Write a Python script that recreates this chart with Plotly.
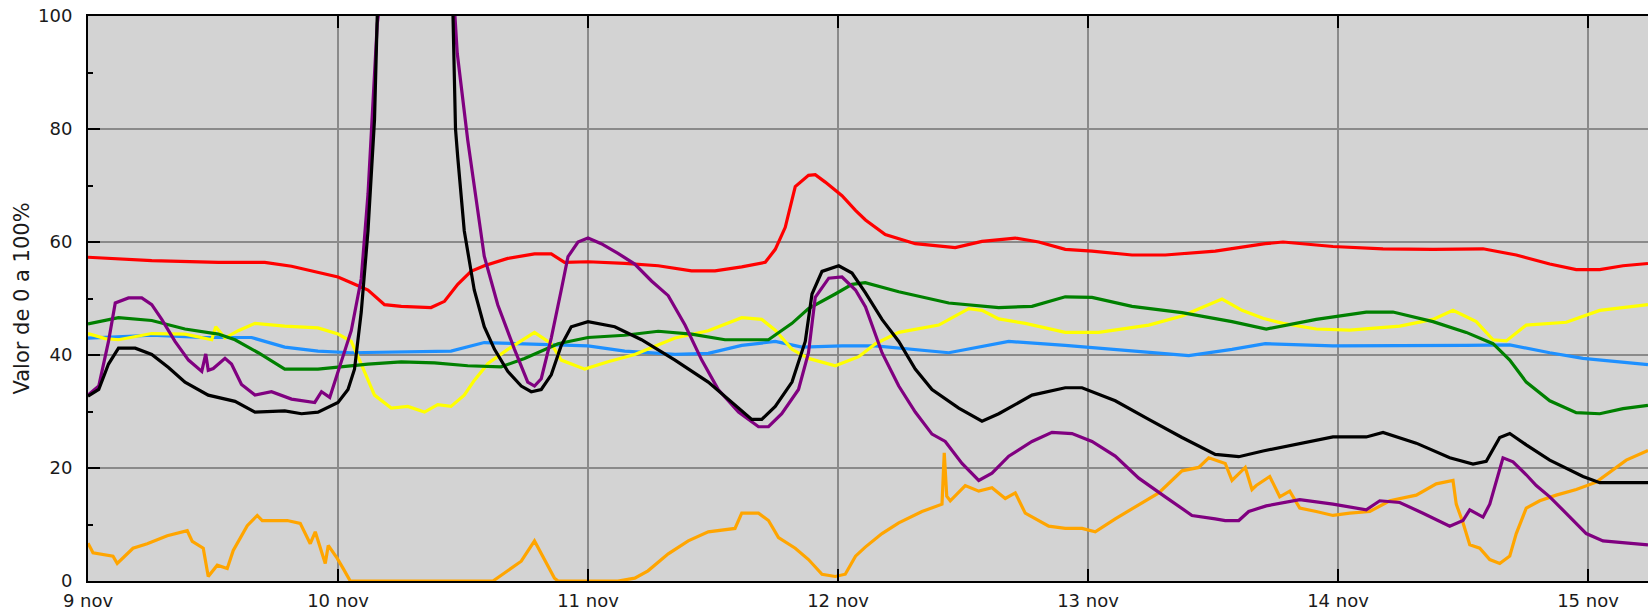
import plotly.graph_objects as go

# Time axis: days elapsed since 9 nov 00:00
DAY_TICKS = [0, 1, 2, 3, 4, 5, 6]
DAY_LABELS = ["9 nov", "10 nov", "11 nov", "12 nov", "13 nov", "14 nov", "15 nov"]
Y_TICKS = [0, 20, 40, 60, 80, 100]

red_days = [0.0, 0.255, 0.521, 0.707, 0.814, 0.92, 1.0, 1.053, 1.12, 1.186, 1.253, 1.372, 1.426,
            1.479, 1.532, 1.585, 1.679, 1.786, 1.853, 1.906, 2.0, 2.147, 2.281, 2.414, 2.508,
            2.615, 2.709, 2.749, 2.789, 2.829, 2.882, 2.909, 2.949, 3.016, 3.07, 3.11, 3.189,
            3.309, 3.469, 3.576, 3.709, 3.803, 3.909, 4.016, 4.176, 4.309, 4.509, 4.709, 4.78,
            4.98, 5.18, 5.38, 5.58, 5.713, 5.847, 5.953, 6.047, 6.14, 6.24]
red_vals = [57.3, 56.7, 56.4, 56.4, 55.7, 54.6, 53.8, 52.8, 51.5, 48.9, 48.6, 48.4, 49.5,
            52.5, 54.8, 55.8, 57.1, 57.9, 57.9, 56.4, 56.5, 56.2, 55.8, 54.9, 54.9,
            55.6, 56.4, 58.7, 62.6, 69.8, 71.8, 71.9, 70.6, 68.2, 65.6, 63.9, 61.3,
            59.7, 59.0, 60.1, 60.7, 60.0, 58.7, 58.4, 57.7, 57.7, 58.4, 59.7, 60.0,
            59.2, 58.8, 58.7, 58.8, 57.7, 56.1, 55.1, 55.1, 55.8, 56.2]

blue_days = [0.0, 0.255, 0.455, 0.654, 0.787, 0.92, 1.053, 1.186, 1.319, 1.452, 1.585, 1.746,
             2.0, 2.147, 2.348, 2.481, 2.615, 2.749, 2.856, 3.016, 3.15, 3.443, 3.683, 3.909,
             4.176, 4.403, 4.576, 4.709, 4.98, 5.313, 5.513, 5.687, 5.847, 5.98, 6.113, 6.24]
blue_vals = [43.0, 43.5, 43.1, 43.1, 41.4, 40.7, 40.4, 40.5, 40.5, 40.7, 42.2, 42.0,
             41.6, 40.7, 40.1, 40.3, 41.7, 42.4, 41.4, 41.6, 41.6, 40.4, 42.4, 41.7,
             40.7, 39.9, 41.0, 42.0, 41.6, 41.6, 41.7, 41.8, 40.4, 39.4, 38.8, 38.3]

green_days = [0.0, 0.122, 0.255, 0.388, 0.521, 0.588, 0.681, 0.787, 0.92, 1.0, 1.12, 1.253,
              1.386, 1.519, 1.652, 1.746, 1.88, 2.0, 2.147, 2.281, 2.414, 2.548, 2.722, 2.816,
              2.882, 2.989, 3.056, 3.109, 3.243, 3.443, 3.643, 3.776, 3.909, 4.016, 4.176,
              4.376, 4.576, 4.713, 4.913, 5.113, 5.22, 5.38, 5.513, 5.62, 5.687, 5.753,
              5.847, 5.953, 6.047, 6.14, 6.24]
green_vals = [45.5, 46.6, 46.1, 44.6, 43.7, 42.7, 40.4, 37.5, 37.5, 37.9, 38.4, 38.8,
              38.6, 38.1, 37.9, 39.4, 42.0, 43.1, 43.5, 44.2, 43.7, 42.7, 42.7, 45.6,
              48.2, 50.8, 52.5, 52.8, 51.2, 49.2, 48.4, 48.6, 50.3, 50.2, 48.6,
              47.5, 45.9, 44.6, 46.3, 47.6, 47.6, 45.9, 44.0, 42.0, 39.1, 35.2,
              31.9, 29.8, 29.6, 30.5, 31.1]

yellow_days = [0.0, 0.069, 0.122, 0.255, 0.388, 0.495, 0.511, 0.548, 0.601, 0.668, 0.787, 0.92,
               1.0, 1.053, 1.093, 1.146, 1.213, 1.279, 1.346, 1.399, 1.452, 1.505, 1.545,
               1.6, 1.679, 1.786, 1.853, 1.893, 1.987, 2.08, 2.187, 2.348, 2.481, 2.615,
               2.695, 2.749, 2.816, 2.882, 2.989, 3.083, 3.15, 3.243, 3.403, 3.523, 3.576,
               3.643, 3.749, 3.909, 4.043, 4.243, 4.376, 4.536, 4.616, 4.70, 4.78, 4.913,
               5.047, 5.247, 5.38, 5.46, 5.553, 5.62, 5.673, 5.753, 5.913, 6.047, 6.24]
yellow_vals = [43.8, 42.9, 42.7, 43.8, 43.7, 42.7, 45.0, 43.0, 44.3, 45.6, 45.1, 44.8,
               43.7, 42.4, 38.4, 32.9, 30.6, 30.9, 29.9, 31.2, 30.9, 32.9, 35.5,
               38.5, 41.0, 44.0, 42.0, 39.1, 37.5, 38.8, 40.1, 43.0, 44.3, 46.6,
               46.3, 44.4, 41.0, 39.4, 38.1, 39.7, 42.0, 44.0, 45.3, 48.2, 47.9,
               46.4, 45.6, 44.0, 44.0, 45.3, 46.9, 49.9, 47.9, 46.5, 45.6, 44.6,
               44.4, 45.1, 46.3, 47.9, 45.9, 42.7, 42.5, 45.3, 45.8, 47.9, 48.9]

black_days = [0.0, 0.043, 0.082, 0.122, 0.189, 0.255, 0.322, 0.388, 0.481, 0.588, 0.668, 0.787,
              0.854, 0.92, 1.0, 1.04, 1.066, 1.093, 1.12, 1.146, 1.157, 1.30, 1.46, 1.47,
              1.479, 1.505, 1.545, 1.585, 1.626, 1.679, 1.733, 1.773, 1.813, 1.853, 1.893,
              1.933, 2.0, 2.107, 2.214, 2.348, 2.481, 2.588, 2.655, 2.695, 2.749, 2.816,
              2.869, 2.896, 2.936, 3.003, 3.056, 3.11, 3.176, 3.243, 3.309, 3.376, 3.483,
              3.576, 3.643, 3.776, 3.909, 3.976, 4.109, 4.243, 4.376, 4.509, 4.603, 4.70,
              4.78, 4.98, 5.113, 5.18, 5.313, 5.447, 5.54, 5.593, 5.647, 5.687, 5.753,
              5.847, 5.98, 6.047, 6.24]
black_vals = [32.7, 33.9, 38.4, 41.2, 41.2, 40.1, 37.8, 35.2, 32.9, 31.8, 29.9, 30.1,
              29.6, 29.9, 31.6, 33.9, 37.5, 47.6, 62.0, 81.6, 100.0, 150.0, 100.0, 80.0,
              75.0, 62.0, 51.5, 45.0, 41.0, 37.1, 34.5, 33.5, 33.9, 36.5, 41.7,
              45.0, 45.9, 45.0, 42.7, 39.1, 35.2, 31.2, 28.6, 28.6, 30.9, 35.2,
              42.4, 50.8, 54.8, 55.8, 54.5, 51.0, 46.3, 42.4, 37.5, 33.9, 30.6,
              28.3, 29.6, 32.9, 34.2, 34.2, 31.9, 28.6, 25.4, 22.4, 22.0, 23.0,
              23.7, 25.5, 25.5, 26.3, 24.4, 21.8, 20.7, 21.2, 25.4, 26.1, 24.1,
              21.4, 18.5, 17.4, 17.4]

purple_days = [0.0, 0.043, 0.082, 0.109, 0.162, 0.215, 0.255, 0.295, 0.348, 0.402, 0.455, 0.471,
               0.481, 0.501, 0.548, 0.574, 0.614, 0.668, 0.734, 0.814, 0.907, 0.934, 0.967,
               1.0, 1.053, 1.093, 1.12, 1.14, 1.157, 1.167, 1.31, 1.465, 1.477, 1.519, 1.559,
               1.585, 1.639, 1.706, 1.759, 1.786, 1.813, 1.853, 1.893, 1.92, 1.96, 2.0,
               2.053, 2.12, 2.187, 2.254, 2.321, 2.388, 2.455, 2.521, 2.602, 2.682, 2.722,
               2.775, 2.842, 2.882, 2.909, 2.963, 3.016, 3.07, 3.11, 3.176, 3.243, 3.309,
               3.376, 3.429, 3.496, 3.563, 3.616, 3.683, 3.776, 3.856, 3.936, 4.016, 4.109,
               4.203, 4.309, 4.416, 4.509, 4.549, 4.603, 4.643, 4.713, 4.847, 4.98, 5.113,
               5.167, 5.247, 5.34, 5.447, 5.5, 5.527, 5.58, 5.607, 5.66, 5.7, 5.753, 5.793,
               5.847, 5.927, 5.993, 6.06, 6.24]
purple_vals = [32.9, 34.5, 42.4, 49.2, 50.1, 50.1, 48.9, 46.3, 42.4, 39.1, 37.1, 40.2,
               37.3, 37.6, 39.4, 38.4, 34.8, 32.9, 33.5, 32.2, 31.6, 33.5, 32.5,
               37.1, 44.3, 53.5, 68.5, 84.8, 98.6, 102.0, 145.0, 102.0, 93.4, 78.0, 66.0,
               57.5, 48.9, 41.0, 35.2, 34.5, 35.8, 43.0, 51.5, 57.4, 60.0, 60.7,
               59.7, 58.0, 56.1, 53.1, 50.5, 45.3, 39.1, 33.9, 29.9, 27.3, 27.3,
               29.6, 33.9, 40.4, 50.2, 53.6, 53.8, 51.5, 48.5, 40.4, 34.5, 29.9,
               26.0, 24.7, 20.8, 17.8, 19.1, 22.1, 24.7, 26.3, 26.1, 24.7, 22.1,
               18.2, 14.9, 11.6, 11.0, 10.7, 10.7, 12.3, 13.3, 14.4, 13.6, 12.6,
               14.2, 13.9, 12.0, 9.7, 10.7, 12.6, 11.3, 13.6, 21.8, 21.1, 18.8, 16.9,
               14.9, 11.3, 8.4, 7.1, 6.4]

orange_days = [0.0, 0.02, 0.10, 0.117, 0.18, 0.237, 0.317, 0.397, 0.417, 0.461, 0.481, 0.517,
               0.557, 0.581, 0.637, 0.677, 0.697, 0.797, 0.849, 0.889, 0.909, 0.949, 0.961,
               0.997, 1.021, 1.049, 1.62, 1.679, 1.733, 1.786, 1.826, 1.866, 1.88, 2.12,
               2.187, 2.24, 2.321, 2.401, 2.481, 2.588, 2.615, 2.682, 2.722, 2.762, 2.829,
               2.882, 2.936, 2.989, 3.029, 3.07, 3.109, 3.176, 3.243, 3.336, 3.416, 3.425,
               3.435, 3.449, 3.509, 3.563, 3.616, 3.669, 3.709, 3.749, 3.843, 3.909, 3.976,
               4.029, 4.109, 4.216, 4.283, 4.376, 4.443, 4.483, 4.549, 4.576, 4.629, 4.656,
               4.673, 4.727, 4.767, 4.807, 4.847, 4.913, 4.98, 5.047, 5.127, 5.207, 5.313,
               5.393, 5.46, 5.473, 5.5, 5.527, 5.567, 5.607, 5.647, 5.687, 5.713, 5.753,
               5.807, 5.873, 5.953, 6.033, 6.087, 6.153, 6.24]
orange_vals = [6.7, 5.0, 4.4, 3.1, 5.8, 6.6, 8.0, 8.9, 7.0, 5.8, 0.8, 2.8,
               2.2, 5.4, 9.8, 11.6, 10.7, 10.7, 10.2, 6.6, 8.7, 3.1, 6.3,
               4.0, 2.2, 0.0, 0.0, 1.8, 3.5, 7.1, 3.8, 0.5, 0.0, 0.0,
               0.5, 1.8, 4.8, 7.1, 8.7, 9.3, 12.0, 12.0, 10.7, 7.7, 5.8,
               3.8, 1.2, 0.8, 1.2, 4.4, 6.0, 8.4, 10.3, 12.3, 13.6, 22.7,
               15.0, 14.2, 16.9, 15.9, 16.5, 14.6, 15.6, 12.0, 9.7, 9.3, 9.3,
               8.7, 11.0, 13.9, 15.6, 19.5, 20.1, 21.8, 20.8, 17.8, 20.1, 16.2,
               16.9, 18.5, 14.9, 15.9, 12.9, 12.3, 11.6, 12.0, 12.3, 14.2, 15.2,
               17.2, 17.8, 13.6, 10.3, 6.4, 5.8, 3.8, 3.1, 4.4, 8.4, 12.9,
               14.2, 15.2, 16.2, 17.5, 19.2, 21.4, 23.1]

series = [
    (orange_days, orange_vals, "#ffa500"),
    (blue_days, blue_vals, "#1e90ff"),
    (yellow_days, yellow_vals, "#ffff00"),
    (green_days, green_vals, "#008000"),
    (red_days, red_vals, "#ff0000"),
    (purple_days, purple_vals, "#800080"),
    (black_days, black_vals, "#000000"),
]

fig = go.Figure()
for days, vals, color in series:
    fig.add_trace(go.Scatter(x=days, y=vals, mode="lines",
                             line=dict(color=color, width=3.2), showlegend=False,
                             hoverinfo="skip"))

tick_font = dict(family="DejaVu Sans", size=18, color="#1a1a1a")

fig.update_layout(
    width=1648, height=611,
    margin=dict(l=88, r=0, t=16, b=28, pad=0),
    paper_bgcolor="white",
    plot_bgcolor="#d3d3d3",
    xaxis=dict(
        range=[0, 6.24], tickvals=DAY_TICKS, ticktext=DAY_LABELS,
        showgrid=True, gridcolor="#8a8a8a", gridwidth=2,
        ticks="inside", ticklen=12, tickwidth=2, tickcolor="black",
        showline=True, linecolor="black", linewidth=2, mirror="allticks",
        zeroline=False, tickfont=tick_font, ticklabelstandoff=2,
    ),
    yaxis=dict(
        range=[0, 100], tickvals=Y_TICKS,
        showgrid=True, gridcolor="#8a8a8a", gridwidth=2,
        ticks="inside", ticklen=12, tickwidth=2, tickcolor="black",
        minor=dict(dtick=10, ticks="inside", ticklen=5, tickwidth=2,
                   tickcolor="black", showgrid=False),
        showline=True, linecolor="black", linewidth=2, mirror=False,
        zeroline=False, tickfont=tick_font, ticklabelstandoff=10,
    ),
    annotations=[dict(
        text="Valor de 0 a 100%", textangle=-90, showarrow=False,
        xref="paper", yref="paper", x=0, y=0.5, xshift=-67,
        xanchor="center", yanchor="middle",
        font=dict(family="DejaVu Sans", size=21, color="#1a1a1a"),
    )],
)

fig.write_html("out.html")
